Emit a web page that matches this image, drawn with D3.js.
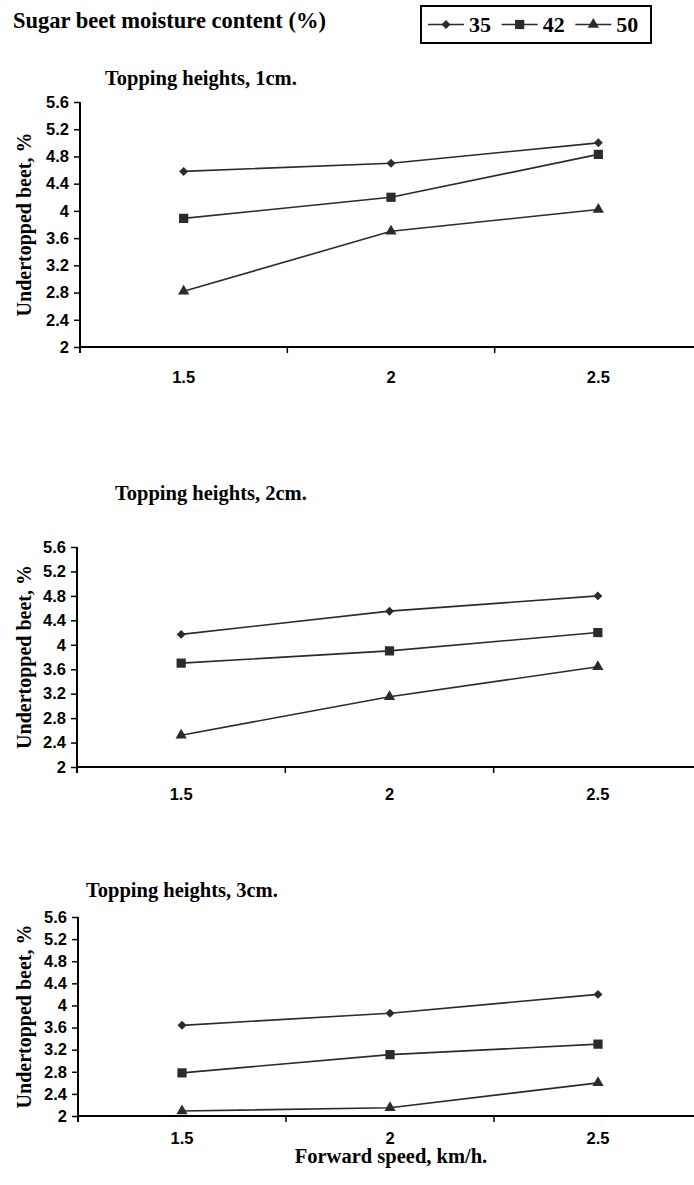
<!DOCTYPE html>
<html><head><meta charset="utf-8">
<script src="https://cdn.jsdelivr.net/npm/d3@7/dist/d3.min.js"></script>
<style>
html,body{margin:0;padding:0;background:#fff;}
svg{display:block;}
.serif{font-family:"Liberation Serif","Times New Roman",serif;font-weight:bold;fill:#000;}
.sans{font-family:"Liberation Sans",Arial,sans-serif;font-weight:bold;}
</style>
</head><body>
<svg id="chart" width="694" height="1185"></svg>
<script>
// ---- data ----
const speeds = ["1.5", "2", "2.5"];
const moisture = ["35", "42", "50"];
const panelTitles = ["Topping heights, 1cm.", "Topping heights, 2cm.", "Topping heights, 3cm."];
const headerText = "Sugar beet moisture content (%)";
const yLabel = "Undertopped beet, %";
const xLabel = "Forward speed, km/h.";
const yTicks = [2, 2.4, 2.8, 3.2, 3.6, 4, 4.4, 4.8, 5.2, 5.6];
const yTickLabels = ["2", "2.4", "2.8", "3.2", "3.6", "4", "4.4", "4.8", "5.2", "5.6"];

const p1_35 = [4.58, 4.70, 5.00];
const p1_42 = [3.89, 4.20, 4.83];
const p1_50 = [2.82, 3.70, 4.02];
const p2_35 = [4.17, 4.55, 4.80];
const p2_42 = [3.70, 3.90, 4.20];
const p2_50 = [2.52, 3.15, 3.64];
const p3_35 = [3.64, 3.86, 4.20];
const p3_42 = [2.78, 3.11, 3.30];
const p3_50 = [2.09, 2.15, 2.60];

// ---- layout ----
const svg = d3.select("#chart");
const ink = "#2b2b2b";
const symbols = [
  {type: d3.symbolSquare, size: 40, rotate: 45},
  {type: d3.symbolSquare, size: 85, rotate: 0},
  {type: d3.symbolTriangle, size: 55, rotate: 0}
];

const panels = [
  {title: panelTitles[0], series: [p1_35, p1_42, p1_50], left: 80, top: 102, bottom: 347, tx: 105, ty: 85, xlabY: 383},
  {title: panelTitles[1], series: [p2_35, p2_42, p2_50], left: 77, top: 547, bottom: 767, tx: 115, ty: 500, xlabY: 800},
  {title: panelTitles[2], series: [p3_35, p3_42, p3_50], left: 78, top: 917, bottom: 1116, tx: 86, ty: 897, xlabY: 1144}
];
const rightEdge = 702;

// header
svg.append("text").attr("class", "serif").attr("x", 13).attr("y", 28)
  .style("font-size", "22.5px").text(headerText);

// legend
const lg = svg.append("g");
lg.append("rect").attr("x", 421).attr("y", 6).attr("width", 230).attr("height", 37)
  .attr("fill", "#fff").attr("stroke", "#000").attr("stroke-width", 2);
const legendX = d3.scaleBand().domain(moisture).range([428, 649]);
moisture.forEach((m, i) => {
  const x0 = legendX(m);
  lg.append("line").attr("x1", x0).attr("x2", x0 + 36).attr("y1", 24.5).attr("y2", 24.5)
    .attr("stroke", ink).attr("stroke-width", 1.5);
  lg.append("path").attr("d", d3.symbol().type(symbols[i].type).size(symbols[i].size)())
    .attr("transform", `translate(${x0 + 18},24.5) rotate(${symbols[i].rotate})`).attr("fill", ink);
  lg.append("text").attr("class", "serif").attr("x", x0 + 41).attr("y", 32)
    .style("font-size", "22px").text(m);
});

panels.forEach(p => {
  const g = svg.append("g");
  const x = d3.scaleBand().domain(speeds).range([p.left, rightEdge]).padding(0);
  const y = d3.scaleLinear().domain([2, 5.6]).range([p.bottom, p.top]);

  // title
  g.append("text").attr("class", "serif").attr("x", p.tx).attr("y", p.ty)
    .style("font-size", "20.5px").text(p.title);

  // y axis label
  g.append("text").attr("class", "serif")
    .attr("transform", `translate(24,${(p.top + p.bottom) / 2}) rotate(-90)`)
    .attr("text-anchor", "middle").attr("dominant-baseline", "central")
    .style("font-size", "20px").text(yLabel);

  // y axis
  const ya = g.append("g").attr("transform", `translate(${p.left},0)`)
    .call(d3.axisLeft(y).tickValues(yTicks).tickFormat((d, i) => yTickLabels[i]).tickSize(6).tickPadding(5));
  ya.select(".domain").attr("stroke", "#000").attr("stroke-width", 2)
    .attr("d", `M0,${p.bottom + 6}V${p.top}`);
  ya.selectAll(".tick line").attr("stroke", "#000").attr("stroke-width", 1.5);
  ya.selectAll(".tick text").attr("class", "sans").style("font-size", "16.5px").attr("fill", "#000");

  // x axis
  const xa = g.append("g").attr("transform", `translate(0,${p.bottom})`)
    .call(d3.axisBottom(x).tickSize(0).tickPadding(0));
  xa.select(".domain").remove();
  xa.selectAll(".tick text").attr("class", "sans").style("font-size", "16.5px").attr("fill", "#000")
    .attr("y", p.xlabY - p.bottom).attr("dy", "0");
  g.append("line").attr("x1", p.left).attr("x2", rightEdge).attr("y1", p.bottom).attr("y2", p.bottom)
    .attr("stroke", "#000").attr("stroke-width", 2);
  speeds.slice(1).forEach(s => {
    g.append("line").attr("x1", x(s)).attr("x2", x(s)).attr("y1", p.bottom).attr("y2", p.bottom + 6)
      .attr("stroke", "#000").attr("stroke-width", 1.5);
  });

  // series
  const cx = s => x(s) + x.bandwidth() / 2;
  const line = d3.line().x((d, i) => cx(speeds[i])).y(d => y(d));
  p.series.forEach((vals, si) => {
    g.append("path").datum(vals).attr("d", line).attr("fill", "none")
      .attr("stroke", ink).attr("stroke-width", 1.6);
    g.selectAll(null).data(vals).enter().append("path")
      .attr("d", d3.symbol().type(symbols[si].type).size(symbols[si].size)())
      .attr("transform", (d, i) => `translate(${cx(speeds[i])},${y(d)}) rotate(${symbols[si].rotate})`)
      .attr("fill", ink);
  });
});

// x axis title
svg.append("text").attr("class", "serif").attr("x", 391).attr("y", 1163)
  .attr("text-anchor", "middle").style("font-size", "20.5px").text(xLabel);
</script>
</body></html>
